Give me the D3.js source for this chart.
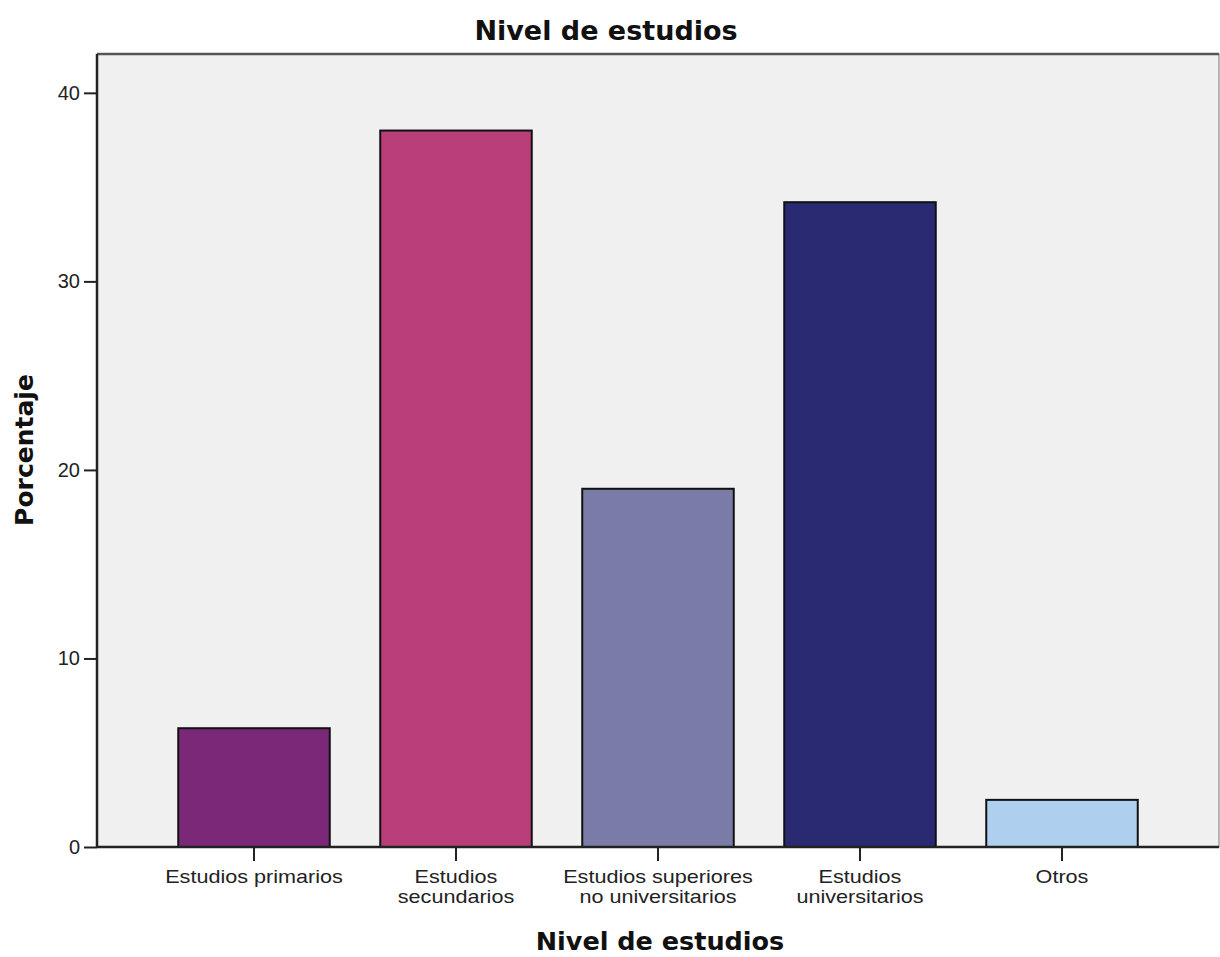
<!DOCTYPE html>
<html><head><meta charset="utf-8">
<script src="https://cdn.jsdelivr.net/npm/d3@7"></script>
<style>body{margin:0;background:#fff;} svg{display:block;}</style>
</head><body>
<svg id="chart" width="1220" height="957"></svg>
<script>
const categories = [["Estudios primarios"],["Estudios","secundarios"],["Estudios superiores","no universitarios"],["Estudios","universitarios"],["Otros"]];
const values = [6.3, 38.0, 19.0, 34.2, 2.5];
const colors = ["#7B2878","#B93E7A","#7B7BA7","#292A72","#AFCFEE"];
const yTicks = [0,10,20,30,40];
const title = "Nivel de estudios";
const xTitle = "Nivel de estudios";
const yTitle = "Porcentaje";

const svg = d3.select("#chart");
const plot = {left:97, right:1219, top:54, bottom:847};
const keys = categories.map((c,i)=>i);
const x = d3.scaleBand().domain(keys).range([153,1163]).paddingInner(0.25).paddingOuter(0.125);
const y = d3.scaleLinear().domain([0,42.06]).range([plot.bottom, plot.top]);

svg.append("rect").attr("x",plot.left).attr("y",plot.top).attr("width",plot.right-plot.left).attr("height",plot.bottom-plot.top)
  .attr("fill","#F0F0F0").attr("stroke","#777").attr("stroke-width",1);
svg.append("line").attr("x1",plot.left).attr("x2",plot.right).attr("y1",plot.top).attr("y2",plot.top).attr("stroke","#555").attr("stroke-width",2.5);

svg.selectAll("rect.bar").data(values).join("rect").attr("class","bar")
  .attr("x",(d,i)=>x(i)).attr("width",x.bandwidth())
  .attr("y",d=>y(d)).attr("height",d=>y(0)-y(d))
  .attr("fill",(d,i)=>colors[i]).attr("stroke","#111").attr("stroke-width",2);

const yAxis = d3.axisLeft(y).tickValues(yTicks).tickSize(13).tickPadding(4).tickFormat(d3.format("d"));
const gy = svg.append("g").attr("transform",`translate(${plot.left},0)`).call(yAxis);
gy.select(".domain").remove();
svg.append("line").attr("x1",plot.left).attr("x2",plot.left).attr("y1",plot.top).attr("y2",plot.bottom).attr("stroke","#222").attr("stroke-width",2.5);
gy.selectAll(".tick line").attr("stroke","#222").attr("stroke-width",2);
gy.selectAll(".tick text").attr("font-family","Liberation Sans, Arial, sans-serif").attr("font-size",20).attr("fill","#222");

const xAxis = d3.axisBottom(x).tickSize(14).tickFormat(()=>"");
const gx = svg.append("g").attr("transform",`translate(0,${plot.bottom})`).call(xAxis);
gx.select(".domain").remove();
svg.append("line").attr("x1",plot.left).attr("x2",plot.right).attr("y1",plot.bottom).attr("y2",plot.bottom).attr("stroke","#222").attr("stroke-width",2.5);
gx.selectAll(".tick line").attr("stroke","#222").attr("stroke-width",2);
gx.selectAll(".tick").each(function(d){
  const t = d3.select(this).append("text").attr("fill","#222").attr("font-family","Liberation Sans, Arial, sans-serif")
    .attr("font-size",18).attr("text-anchor","middle").attr("transform","scale(1.2,1)");
  categories[d].forEach((line,j)=>{
    t.append("tspan").attr("x",0).attr("y",36+j*20.5).text(line);
  });
});

svg.append("text").attr("x",606).attr("y",40).attr("text-anchor","middle")
  .attr("font-family","DejaVu Sans, Verdana, sans-serif").attr("font-weight","bold").attr("font-size",27).attr("fill","#111").text(title);
svg.append("text").attr("x",660).attr("y",950).attr("text-anchor","middle")
  .attr("font-family","DejaVu Sans, Verdana, sans-serif").attr("font-weight","bold").attr("font-size",25.5).attr("fill","#111").text(xTitle);
svg.append("text").attr("transform","translate(33,450) rotate(-90)").attr("text-anchor","middle")
  .attr("font-family","DejaVu Sans, Verdana, sans-serif").attr("font-weight","bold").attr("font-size",25).attr("fill","#111").text(yTitle);
</script>
</body></html>
